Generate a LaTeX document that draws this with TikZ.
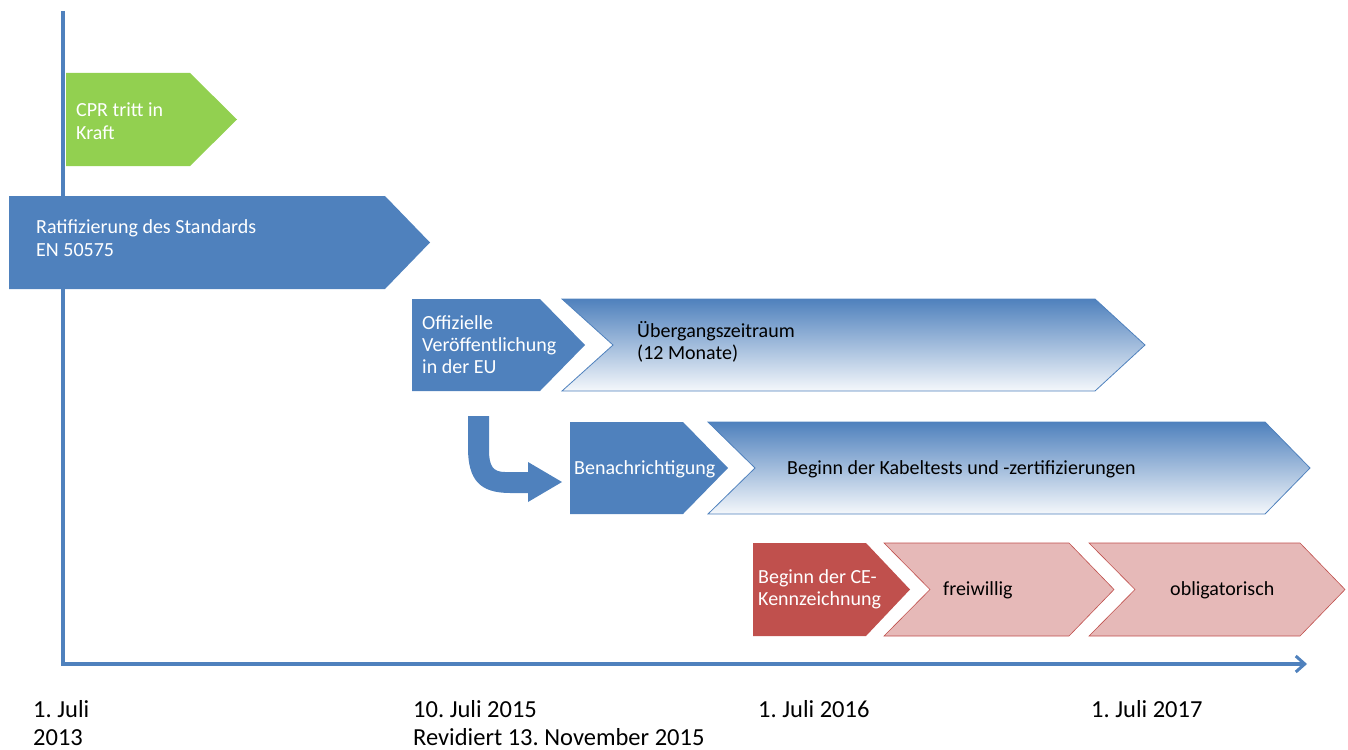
\documentclass[tikz,border=0pt]{standalone}
\usepackage{fontspec}
\setmainfont{Carlito}
\usetikzlibrary{arrows.meta}
\frenchspacing
\definecolor{oblue}{HTML}{4F81BD}
\definecolor{ogreen}{HTML}{92D050}
\definecolor{ored}{HTML}{C0504D}
\definecolor{opink}{HTML}{E6B9B8}
\tikzset{
  x=1pt,y=-1pt,
  solidblue/.style={fill=oblue,draw=none},
  gradblue/.style={top color=oblue,bottom color=white!94!oblue,draw=oblue,line width=0.8pt},
  pinkbox/.style={fill=opink,draw=ored,line width=0.6pt},
  wtxt/.style={text=white,font=\fontsize{20}{23}\selectfont,anchor=base west,inner sep=0pt},
  btxt/.style={text=black,font=\fontsize{20}{23}\selectfont,anchor=base west,inner sep=0pt},
  datetxt/.style={text=black,font=\fontsize{24.5}{28}\selectfont,anchor=base west,inner sep=0pt},
  axisline/.style={draw=oblue,line width=4pt},
}
\begin{document}
\begin{tikzpicture}
\useasboundingbox (0,0) rectangle (1348,749);
% axis
\draw[axisline,-{Straight Barb[length=9pt,width=16pt,line width=3pt]}] (63,11) -- (63,664) -- (1307,664);
% shapes
\fill[ogreen] (66,73) -- (190,73) -- (237,119.5) -- (190,166) -- (66,166) -- cycle;
\fill[oblue] (9,196) -- (385,196) -- (430,242.5) -- (385,289) -- (9,289) -- cycle;
\fill[oblue] (412,299) -- (540,299) -- (585,345) -- (540,391) -- (412,391) -- cycle;
\shade[gradblue] (562,299) -- (1095,299) -- (1145,345) -- (1095,391) -- (562,391) -- (613,345) -- cycle;
\fill[oblue] (570,422) -- (683,422) -- (728,468) -- (683,514) -- (570,514) -- cycle;
\shade[gradblue] (708,422) -- (1265,422) -- (1310,468) -- (1265,514) -- (708,514) -- (755,468) -- cycle;
\fill[ored] (753,543) -- (866,543) -- (910,589.5) -- (866,636) -- (753,636) -- cycle;
\draw[pinkbox] (884,543) -- (1069,543) -- (1114,589.5) -- (1069,636) -- (884,636) -- (930,589.5) -- cycle;
\draw[pinkbox] (1089,543) -- (1300,543) -- (1345,589.5) -- (1300,636) -- (1089,636) -- (1135,589.5) -- cycle;
% bent arrow
\fill[oblue] (468,416) -- (468,448) .. controls (468,480) and (480,493) .. (510,493) -- (528,493) -- (528,502) -- (562,482) -- (528,462) -- (528,472) -- (505,472) .. controls (493,472) and (489,466) .. (489,450) -- (489,416) -- cycle;
% texts
\node[wtxt] (cpr) at (76,117) {\vtop{\hbox{CPR tritt in}\hbox{Kraft}}};
\node[wtxt] (rat) at (36,233) {\vtop{\hbox{Ratifizierung des Standards}\hbox{EN 50575}}};
\node[wtxt] (off) at (422,329) {\vtop{\baselineskip=22pt\hbox{Offizielle}\hbox{Veröffentlichung}\hbox{in der EU}}};
\node[btxt] (ueb) at (637,337) {\vtop{\baselineskip=22pt\hbox{Übergangszeitraum}\hbox{(12 Monate)}}};
\node[wtxt] (ben) at (574,474) {Benachrichtigung};
\node[btxt] (kab) at (787,474) {Beginn der Kabeltests und -zertifizierungen};
\node[wtxt] (ce) at (758,583) {\vtop{\baselineskip=22pt\hbox{Beginn der CE-}\hbox{Kennzeichnung}}};
\node[btxt] (frei) at (943,595) {freiwillig};
\node[btxt] (obl) at (1170,595) {obligatorisch};
% dates
\node[datetxt] (d1) at (33,717) {\vtop{\hbox{1. Juli}\hbox{2013}}};
\node[datetxt] (d2) at (413,717) {\vtop{\hbox{10. Juli 2015}\hbox{Revidiert 13. November 2015}}};
\node[datetxt] (d3) at (758,717) {1. Juli 2016};
\node[datetxt] (d4) at (1091,717) {1. Juli 2017};
\end{tikzpicture}
\end{document}
